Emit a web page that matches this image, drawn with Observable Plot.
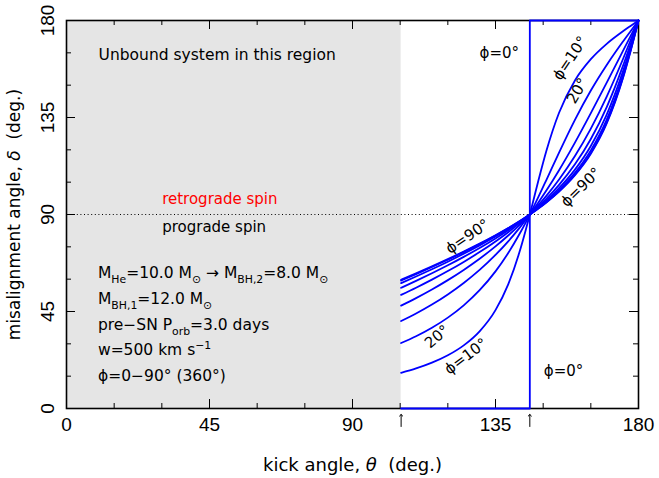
<!DOCTYPE html>
<html><head><meta charset="utf-8">
<script src="https://cdn.jsdelivr.net/npm/d3@7"></script>
<script src="https://cdn.jsdelivr.net/npm/@observablehq/plot@0.6"></script>
<style>
html,body{margin:0;padding:0;background:#fff;}
#chart svg{display:block;}
#chart svg text{white-space:pre;}
</style>
</head><body><div id="chart"></div>
<script>
// ---- data ----
const kickAngles = [105.3, 110, 115, 120, 125, 130, 135, 139, 142.5, 144.5, 145.8, 147, 148.5, 151, 155, 160, 165, 170, 175, 177.5, 180];
const phiValues = [10, 20, 30, 40, 50, 60, 70, 80, 90];
const deltaPhi10 = [16.56, 18.59, 21.26, 24.69, 29.29, 35.82, 45.65, 57.59, 72.32, 82.67, 90, 96.99, 105.73, 119.44, 137.20, 152.19, 162.06, 169.18, 174.89, 177.48, 180];
const deltaPhi20 = [30.37, 33.52, 37.46, 42.16, 47.86, 54.87, 63.61, 72.12, 80.81, 86.26, 90, 93.56, 98.14, 106.00, 118.73, 133.92, 147.51, 159.37, 170.01, 175.04, 180];
const deltaPhi30 = [40.58, 44.09, 48.24, 52.93, 58.25, 64.30, 71.25, 77.55, 83.68, 87.44, 90, 92.44, 95.59, 101.10, 110.55, 123.36, 137.03, 151.17, 165.55, 172.77, 180];
const deltaPhi40 = [47.75, 51.22, 55.21, 59.56, 64.29, 69.48, 75.21, 80.26, 85.08, 88.01, 90, 91.90, 94.35, 98.67, 106.26, 117.14, 129.85, 144.71, 161.67, 170.74, 180];
const deltaPhi50 = [52.69, 56.02, 59.77, 63.75, 68.01, 72.56, 77.51, 81.80, 85.87, 88.33, 90, 91.59, 93.65, 97.30, 103.76, 113.26, 125.02, 139.86, 158.46, 169.00, 180];
const deltaPhi60 = [56.01, 59.20, 62.74, 66.43, 70.34, 74.47, 78.91, 82.74, 86.34, 88.52, 90, 91.41, 93.23, 96.46, 102.22, 110.82, 121.78, 136.36, 155.94, 167.61, 180];
const deltaPhi70 = [58.14, 61.22, 64.60, 68.10, 71.77, 75.64, 79.76, 83.30, 86.63, 88.64, 90, 91.30, 92.98, 95.96, 101.29, 109.31, 119.74, 134.03, 154.16, 166.59, 180];
const deltaPhi80 = [59.34, 62.34, 65.62, 69.01, 72.55, 76.27, 80.22, 83.61, 86.78, 88.70, 90, 91.24, 92.84, 95.69, 100.78, 108.48, 118.58, 132.69, 153.09, 165.97, 180];
const deltaPhi90 = [59.72, 62.70, 65.95, 69.31, 72.80, 76.47, 80.37, 83.70, 86.83, 88.72, 90, 91.22, 92.80, 95.60, 100.62, 108.23, 118.21, 132.25, 152.73, 165.77, 180];
const phi0Theta = [105.3, 145.8, 145.8, 180];
const phi0Delta = [0, 0, 180, 180];
const unboundLimit = 105.3;
const criticalAngle = 145.8;
const spinBoundary = 90;
const axisDomain = [0, 180];
const majorTicks = [0, 45, 90, 135, 180];
const minorTicks = [15, 30, 60, 75, 105, 120, 150, 165];

// annotations
const curveLabelText = ["ϕ=0°", "ϕ=10°", "20°", "ϕ=90°", "ϕ=90°", "20°", "ϕ=10°", "ϕ=0°"];
const curveLabelTheta = [136.2, 158.5, 160.8, 161.9, 126.2, 116.6, 125.7, 156.4];
const curveLabelDelta = [165.0, 162.5, 147.4, 102.6, 79.8, 33.3, 24.2, 17.2];
const curveLabelAngle = [0, -56, -60, -44, -34, -40, -37, 0];
const paramLines = ["M_{He}=10.0 M_{⊙} → M_{BH,2}=8.0 M_{⊙}", "M_{BH,1}=12.0 M_{⊙}", "pre−SN P_{orb}=3.0 days", "w=500 km s^{−1}", "ϕ=0−90° (360°)"];
const paramLineDelta = [60.7, 48.6, 36.5, 24.7, 12.7];
const paramTheta = 9.9;

// ---- build tables ----
const seriesDelta = [deltaPhi10, deltaPhi20, deltaPhi30, deltaPhi40, deltaPhi50, deltaPhi60, deltaPhi70, deltaPhi80, deltaPhi90];
const curveRows = phiValues.flatMap((phi, j) => kickAngles.map((theta, i) => ({phi, theta, delta: seriesDelta[j][i]})));
const phi0Rows = phi0Theta.map((theta, i) => ({theta, delta: phi0Delta[i]}));
const curveLabels = curveLabelText.map((t, i) => ({t, x: curveLabelTheta[i], y: curveLabelDelta[i], r: curveLabelAngle[i]}));
const paramRows = paramLines.map((t, i) => ({t, y: paramLineDelta[i]}));

const W = 659, H = 478, mT = 20, mR = 21, mB = 70, mL = 66;
const frameH = H - mT - mB, frameW = W - mL - mR;
const blue = "#0000ff";
const tickFont = "'Liberation Sans', Arial, sans-serif";

const chart = Plot.plot({
  width: W, height: H,
  marginTop: mT, marginRight: mR, marginBottom: mB, marginLeft: mL,
  x: {domain: axisDomain, axis: null},
  y: {domain: axisDomain, axis: null},
  style: {fontFamily: "'DejaVu Sans', sans-serif", background: "#fff", color: "#000"},
  marks: [
    Plot.rect([{x1: axisDomain[0], x2: unboundLimit, y1: axisDomain[0], y2: axisDomain[1]}], {x1: "x1", x2: "x2", y1: "y1", y2: "y2", fill: "#e5e5e5"}),
    Plot.ruleY([spinBoundary], {stroke: "#000", strokeWidth: 1, strokeDasharray: "1,2.6"}),
    Plot.frame({stroke: "#000", strokeWidth: 1.6}),
    // inward ticks
    Plot.tickX(majorTicks, {x: d => d, insetTop: frameH - 9, stroke: "#000"}),
    Plot.tickX(majorTicks, {x: d => d, insetBottom: frameH - 9, stroke: "#000"}),
    Plot.tickX(minorTicks, {x: d => d, insetTop: frameH - 5, stroke: "#000"}),
    Plot.tickX(minorTicks, {x: d => d, insetBottom: frameH - 5, stroke: "#000"}),
    Plot.tickY(majorTicks, {y: d => d, insetRight: frameW - 9, stroke: "#000"}),
    Plot.tickY(majorTicks, {y: d => d, insetLeft: frameW - 9, stroke: "#000"}),
    Plot.tickY(minorTicks, {y: d => d, insetRight: frameW - 5, stroke: "#000"}),
    Plot.tickY(minorTicks, {y: d => d, insetLeft: frameW - 5, stroke: "#000"}),
    // tick labels
    Plot.text(majorTicks, {x: d => d, frameAnchor: "bottom", dy: 9, lineAnchor: "top", text: d => String(d), fontSize: 19, fontFamily: tickFont, fill: "#000"}),
    Plot.text(majorTicks, {y: d => d, frameAnchor: "left", dx: -13, rotate: -90, textAnchor: "middle", lineAnchor: "bottom", text: d => String(d), fontSize: 19, fontFamily: tickFont, fill: "#000"}),
    // arrows marking the unbound limit and critical angle
    Plot.vector([unboundLimit, criticalAngle], {x: d => d, frameAnchor: "bottom", dy: 18, length: 12, rotate: 0, anchor: "start", r: 2.3, stroke: "#000", strokeWidth: 1}),
    // axis titles
    Plot.text(["kick angle, *{θ}  (deg.)"], {frameAnchor: "bottom", dy: 57, lineAnchor: "middle", text: d => d, fontSize: 18, fill: "#000"}),
    Plot.text(["misalignment angle, *{δ}  (deg.)"], {frameAnchor: "left", dx: -47, rotate: -90, textAnchor: "middle", lineAnchor: "bottom", text: d => d, fontSize: 17, fill: "#000"}),
    // curves
    Plot.line(curveRows, {x: "theta", y: "delta", z: "phi", stroke: blue, strokeWidth: 1.8, curve: "monotone-x"}),
    Plot.line(phi0Rows, {x: "theta", y: "delta", stroke: blue, strokeWidth: 1.8}),
    // curve labels
    Plot.text(curveLabels, {x: "x", y: "y", text: "t", rotate: "r", fontSize: 15, fill: "#000"}),
    // region texts
    Plot.text(["Unbound system in this region"], {x: () => 10.1, y: () => 161.8, text: d => d, textAnchor: "start", lineAnchor: "bottom", fontSize: 15.5, fill: "#000"}),
    Plot.text(["retrograde spin"], {x: () => 30.1, y: () => 94.9, text: d => d, textAnchor: "start", lineAnchor: "bottom", fontSize: 15, fill: "#ff0000"}),
    Plot.text(["prograde spin"], {x: () => 30.1, y: () => 82.0, text: d => d, textAnchor: "start", lineAnchor: "bottom", fontSize: 15, fill: "#000"}),
    Plot.text(paramRows, {x: () => paramTheta, y: "y", text: "t", textAnchor: "start", lineAnchor: "bottom", fontSize: 15.5, fill: "#000"})
  ]
});

document.getElementById("chart").appendChild(chart);

// rich text: _{sub}, ^{sup}, *{italic}
const NS = "http://www.w3.org/2000/svg";
chart.querySelectorAll("text").forEach(el => {
  const s = el.textContent;
  if (!/[_^*]\{/.test(s)) return;
  const fs = parseFloat(getComputedStyle(el).fontSize) || 15;
  const re = /([_^*])\{([^}]*)\}/g;
  const parts = [];
  let last = 0, m;
  while ((m = re.exec(s))) {
    if (m.index > last) parts.push({t: s.slice(last, m.index), k: ""});
    parts.push({t: m[2], k: m[1]});
    last = re.lastIndex;
  }
  if (last < s.length) parts.push({t: s.slice(last), k: ""});
  el.textContent = "";
  let offset = 0;
  for (const p of parts) {
    const ts = document.createElementNS(NS, "tspan");
    ts.textContent = p.t;
    let target = 0;
    if (p.k === "_") { target = 0.32 * fs; ts.setAttribute("font-size", (0.7 * fs).toFixed(2)); }
    else if (p.k === "^") { target = -0.42 * fs; ts.setAttribute("font-size", (0.7 * fs).toFixed(2)); }
    else if (p.k === "*") { ts.setAttribute("font-style", "italic"); }
    if (target !== offset) { ts.setAttribute("dy", (target - offset).toFixed(2)); offset = target; }
    el.appendChild(ts);
  }
});
</script>
</body></html>
